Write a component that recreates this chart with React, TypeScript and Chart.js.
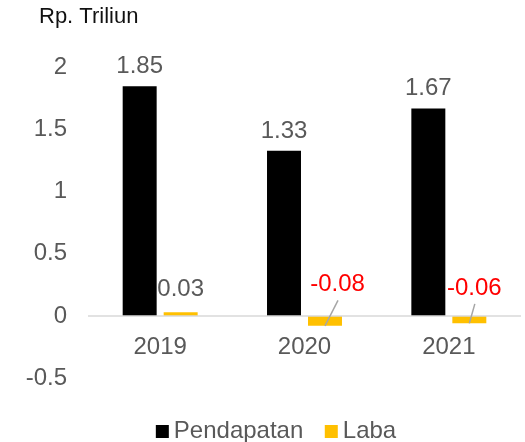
import React, { useEffect, useRef } from "react";
import { Chart, registerables } from "chart.js";

Chart.register(...registerables);

const categories = ["2019", "2020", "2021"];
const pendapatan = [1.85, 1.33, 1.67];
const laba = [0.03, -0.08, -0.06];
const yTicks = [-0.5, 0, 0.5, 1, 1.5, 2];
const unitLabel = "Rp. Triliun";

const FONT = '"Liberation Sans", Arial, sans-serif';
const TEXT_GRAY = "#595959";
const BLACK = "#000000";
const YELLOW = "#FFC000";
const RED = "#FF0000";

// label placement styles for Laba values (offset from bar center / zero line)
const negLabelStyle = [
  { dx: 0, rise: 20 },
  { dx: 12.5, rise: 24.5 },
  { dx: 5, rise: 21 },
];

const fmt = (v: number) => v.toFixed(2);

const overlayPlugin = {
  id: "overlay",
  afterDatasetsDraw(chart: any) {
    const ctx = chart.ctx;
    const xs = chart.scales.x;
    const ys = chart.scales.y;
    const area = chart.chartArea;
    const y0 = ys.getPixelForValue(0);
    ctx.save();
    // zero line
    ctx.strokeStyle = "#D9D9D9";
    ctx.lineWidth = 1.5;
    ctx.beginPath();
    ctx.moveTo(area.left, y0);
    ctx.lineTo(area.right, y0);
    ctx.stroke();

    // category labels under zero line
    ctx.font = `24px ${FONT}`;
    ctx.fillStyle = TEXT_GRAY;
    ctx.textAlign = "center";
    ctx.textBaseline = "alphabetic";
    categories.forEach((c, i) => {
      ctx.fillText(c, xs.getPixelForValue(i), y0 + 38.5);
    });

    // data labels
    chart.data.datasets.forEach((ds: any, di: number) => {
      const meta = chart.getDatasetMeta(di);
      meta.data.forEach((bar: any, i: number) => {
        const v = ds.data[i] as number;
        const text = fmt(v);
        ctx.font = `24px ${FONT}`;
        ctx.textAlign = "center";
        ctx.textBaseline = "alphabetic";
        if (di === 0) {
          ctx.fillStyle = TEXT_GRAY;
          ctx.fillText(text, bar.x, bar.y - 13);
        } else if (v >= 0) {
          ctx.fillStyle = TEXT_GRAY;
          ctx.fillText(text, bar.x, y0 - negLabelStyle[i].rise);
        } else {
          const lx = bar.x + negLabelStyle[i].dx;
          const ly = y0 - negLabelStyle[i].rise;
          ctx.strokeStyle = "#A6A6A6";
          ctx.lineWidth = 1.5;
          ctx.beginPath();
          ctx.moveTo(lx + 0.5, ly + 9);
          ctx.lineTo(bar.x, bar.y);
          ctx.stroke();
          ctx.fillStyle = RED;
          ctx.fillText(text, lx, ly);
        }
      });
    });
    ctx.restore();
  },
  afterDraw(chart: any) {
    const ctx = chart.ctx;
    ctx.save();
    // unit title
    ctx.font = `22px ${FONT}`;
    ctx.fillStyle = "#111111";
    ctx.textAlign = "left";
    ctx.textBaseline = "alphabetic";
    ctx.fillText(unitLabel, 39, 23);

    // legend
    ctx.font = `24px ${FONT}`;
    const box = 13;
    const boxGap = 5;
    const itemGap = 21.5;
    const items = chart.data.datasets.map((ds: any) => ({
      label: ds.label,
      color: ds.backgroundColor,
      w: ctx.measureText(ds.label).width,
    }));
    const total =
      items.reduce((s: number, it: any) => s + box + boxGap + it.w, 0) +
      itemGap * (items.length - 1);
    let x = 276 - total / 2;
    items.forEach((it: any) => {
      ctx.fillStyle = it.color;
      ctx.fillRect(x, 425, box, box);
      ctx.fillStyle = TEXT_GRAY;
      ctx.textAlign = "left";
      ctx.fillText(it.label, x + box + boxGap, 437.5);
      x += box + boxGap + it.w + itemGap;
    });
    ctx.restore();
  },
};

export default function App() {
  const ref = useRef<HTMLCanvasElement | null>(null);
  useEffect(() => {
    document.body.style.margin = "0";
    if (!ref.current) return;
    const chart = new Chart(ref.current, {
      type: "bar",
      data: {
        labels: categories,
        datasets: [
          {
            label: "Pendapatan",
            data: pendapatan,
            backgroundColor: BLACK,
            categoryPercentage: 0.568,
            barPercentage: 0.829,
          },
          {
            label: "Laba",
            data: laba,
            backgroundColor: YELLOW,
            categoryPercentage: 0.568,
            barPercentage: 0.829,
          },
        ],
      },
      options: {
        animation: false,
        responsive: true,
        maintainAspectRatio: false,
        layout: { padding: { top: 67.5, bottom: 64, right: 4, left: 0 } },
        plugins: {
          legend: { display: false },
          tooltip: { enabled: false },
          title: { display: false },
        },
        scales: {
          x: {
            display: false,
          },
          y: {
            min: -0.5,
            max: 2,
            afterBuildTicks: (scale: any) => {
              scale.ticks = yTicks.map((v) => ({ value: v }));
            },
            afterFit: (scale: any) => {
              scale.width = 88;
            },
            grid: { display: false, drawTicks: false },
            border: { display: false },
            ticks: {
              padding: 21,
              color: TEXT_GRAY,
              font: { size: 24, family: FONT },
              callback: (v: any) => String(v),
            },
          },
        },
      },
      plugins: [overlayPlugin],
    });
    return () => chart.destroy();
  }, []);
  return (
    <div style={{ width: 525, height: 442, position: "relative" }}>
      <canvas ref={ref} />
    </div>
  );
}
